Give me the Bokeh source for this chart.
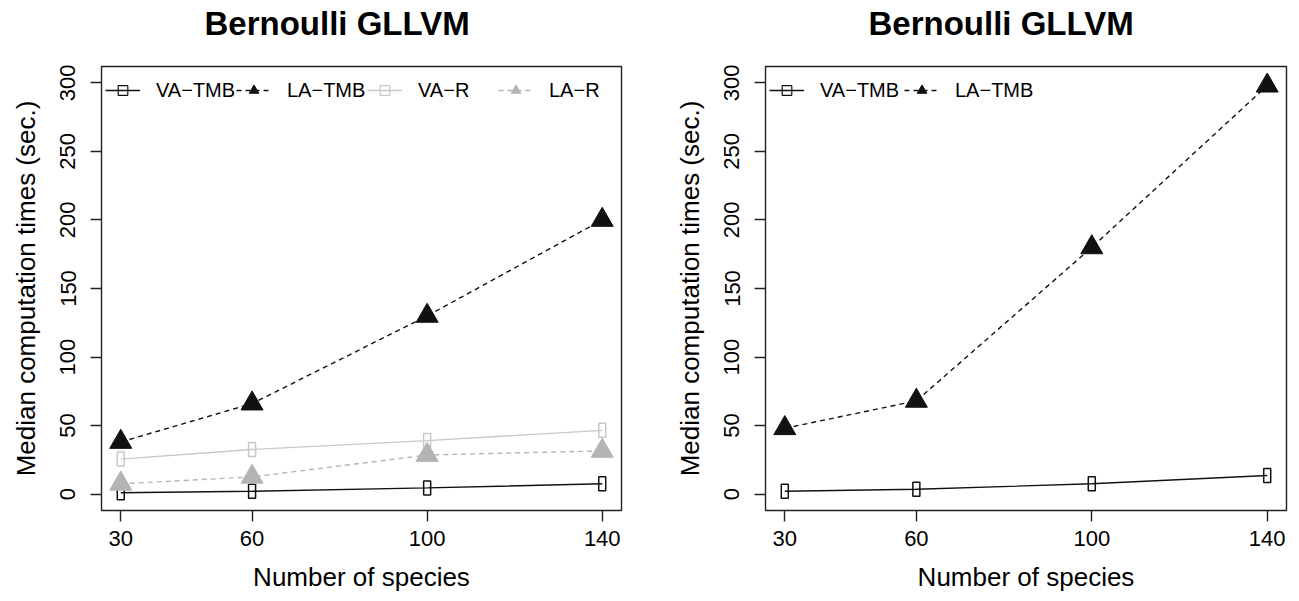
from bokeh.plotting import figure
from bokeh.layouts import row
from bokeh.models import FixedTicker, Legend, LegendItem, Range1d, Title
from bokeh.embed import file_html
from bokeh.resources import INLINE

species = [30, 60, 100, 140]

# Left panel
left_va_tmb = [1, 2, 4.5, 7.5]
left_la_tmb = [38, 66, 130, 200]
left_va_r = [25.5, 32.5, 39, 46.5]
left_la_r = [7.5, 12.5, 28.5, 31.5]

# Right panel
right_va_tmb = [2, 3.5, 7.5, 13.5]
right_la_tmb = [48, 68, 180, 298]

y_ticks = [0, 50, 100, 150, 200, 250, 300]
title_text = "Bernoulli GLLVM"
x_label = "Number of species"
y_label = "Median computation times (sec.)"

FONT = "Liberation Sans"
BLACK = "#111111"
LIGHT = "#c8c8c8"
MID = "#b4b4b4"

FIG_H = 601
TOP = 66
BOTTOM = 91
FRAME_H = FIG_H - TOP - BOTTOM


def make_fig(width, border_left, border_right):
    p = figure(width=width, height=FIG_H, output_backend="svg", toolbar_location=None,
               x_range=Range1d(25.6, 144.4), y_range=Range1d(-12, 312),
               min_border_left=border_left, min_border_right=border_right,
               min_border_top=TOP, min_border_bottom=BOTTOM,
               background_fill_color="white", border_fill_color="white")
    p.title_location = None
    # small spacer between frame and title, then the title itself
    p.add_layout(Title(text=" ", text_font_size="2px", standoff=15), "above")
    p.add_layout(Title(text=title_text, text_font=FONT, text_font_size="33px",
                       text_font_style="bold", text_color="black", align="left",
                       offset=103, vertical_align="top", standoff=8), "above")
    p.xgrid.visible = False
    p.ygrid.visible = False
    p.outline_line_color = "#222222"
    p.outline_line_width = 1.4
    p.outline_line_alpha = 1
    for ax in (p.xaxis[0], p.yaxis[0]):
        ax.axis_line_color = None
        ax.major_tick_in = 0
        ax.major_tick_out = 11
        ax.major_tick_line_color = "#222222"
        ax.major_tick_line_width = 1.4
        ax.minor_tick_line_color = None
        ax.major_label_text_font = FONT
        ax.major_label_text_font_size = "22px"
        ax.major_label_text_color = "black"
        ax.axis_label_text_font = FONT
        ax.axis_label_text_font_size = "26px"
        ax.axis_label_text_font_style = "normal"
        ax.axis_label_text_color = "black"
    p.xaxis[0].ticker = FixedTicker(ticks=species)
    p.yaxis[0].ticker = FixedTicker(ticks=y_ticks)
    p.yaxis[0].major_label_orientation = "vertical"
    p.xaxis[0].axis_label = x_label
    p.yaxis[0].axis_label = y_label
    p.xaxis[0].major_label_standoff = 9
    p.yaxis[0].major_label_standoff = 15
    p.xaxis[0].axis_label_standoff = 13
    p.yaxis[0].axis_label_standoff = 17
    return p


def add_squares(p, xs, ys, color, label):
    ln = p.line(xs, ys, line_color=color, line_width=1.4)
    p.rect(xs, ys, width=7, height=14, width_units="screen", height_units="screen",
           fill_color=None, line_color=color, line_width=1.5)
    proxy = p.scatter(xs, ys, marker="square", size=0, fill_color=None,
                      line_color=color, line_width=1.2)
    return LegendItem(label=label, renderers=[ln, proxy])


def add_triangles(p, xs, ys, color, label):
    ln = p.line(xs, ys, line_color=color, line_width=1.4, line_dash="5 4")
    tr = p.scatter(xs, ys, marker="triangle", size=22, fill_color=color, line_color=color)
    return LegendItem(label=label, renderers=[ln, tr])


def add_legend(p, items, label_width):
    leg = Legend(items=items, orientation="horizontal", location=(4, FRAME_H - 34 - 2),
                 glyph_width=35, glyph_height=24, label_height=24, label_standoff=16,
                 label_width=label_width, spacing=0, padding=5, margin=0,
                 border_line_color=None, background_fill_alpha=0,
                 label_text_font=FONT, label_text_font_size="20px", label_text_color="black")
    p.add_layout(leg)


p1 = make_fig(641, 101, 20)
items1 = [
    add_squares(p1, species, left_va_tmb, BLACK, "VA\u2212TMB"),
    add_triangles(p1, species, left_la_tmb, BLACK, "LA\u2212TMB"),
    add_squares(p1, species, left_va_r, LIGHT, "VA\u2212R"),
    add_triangles(p1, species, left_la_r, MID, "LA\u2212R"),
]
add_legend(p1, items1, 80)

p2 = make_fig(650, 124, 5)
items2 = [
    add_squares(p2, species, right_va_tmb, BLACK, "VA\u2212TMB"),
    add_triangles(p2, species, right_la_tmb, BLACK, "LA\u2212TMB"),
]
add_legend(p2, items2, 84)

layout = row(p1, p2)
open("out.html", "w").write(file_html(layout, INLINE))
